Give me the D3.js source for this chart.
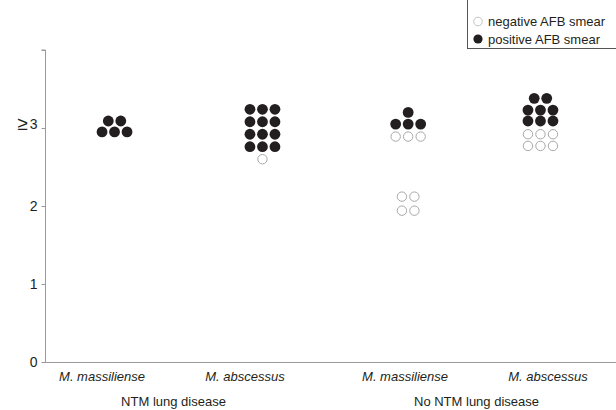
<!DOCTYPE html>
<html>
<head>
<meta charset="utf-8">
<script src="https://cdn.jsdelivr.net/npm/d3@7"></script>
<style>
  html, body { margin: 0; padding: 0; background: #fff; }
  svg { display: block; font-family: "Liberation Sans", Arial, sans-serif; }
</style>
</head>
<body>
<svg id="chart" width="616" height="410"></svg>
<script>
// Categories along the x axis and the two patient groups they belong to
const categories = ["M. massiliense", "M. abscessus", "M. massiliense", "M. abscessus"];
const categoryGroup = [0, 0, 1, 1];
const groups = ["NTM lung disease", "No NTM lung disease"];

// y axis ticks and their labels
const yTickValues = [0, 1, 2, 3, 4];
const yTickLabels = ["0", "1", "2", "3", ""];

// Dot rows: category index, smear result, level on the y axis,
// and the slots (in dot widths, from the category centre) the dots occupy
const rowCategory = [0, 0, 1, 1, 1, 1, 1, 2, 2, 2, 2, 2, 3, 3, 3, 3, 3];
const rowSmear = ["pos", "pos",
                  "pos", "pos", "pos", "pos", "neg",
                  "pos", "pos", "neg", "neg", "neg",
                  "pos", "pos", "pos", "neg", "neg"];
const rowLevel = [3.09, 2.95,
                  3.24, 3.08, 2.92, 2.76, 2.60,
                  3.20, 3.05, 2.89, 2.12, 1.94,
                  3.38, 3.23, 3.09, 2.92, 2.77];
const rowSlots = [[0.5, 1.5], [0, 1, 2],
                  [0.4, 1.4, 2.4], [0.4, 1.4, 2.4], [0.4, 1.4, 2.4], [0.4, 1.4, 2.4], [1.4],
                  [0.25], [-0.75, 0.25, 1.25], [-0.75, 0.25, 1.25], [-0.25, 0.75], [-0.25, 0.75],
                  [-1.1, -0.1], [-1.6, -0.6, 0.4], [-1.6, -0.6, 0.4], [-1.6, -0.6, 0.4], [-1.6, -0.6, 0.4]];

// Legend entries
const legendLabels = ["negative AFB smear", "positive AFB smear"];
const legendSmear = ["neg", "pos"];

const ink = "#231f20";
const axisGrey = "#9a9a9a";
const openStroke = "#a8a8a8";
const dotStep = 12.5;

const svg = d3.select("#chart");
const plotLeft = 45, plotBottom = 362, plotTop = 50, plotRight = 616;

// Groups first, then the categories inside each group
const xGroup = d3.scaleBand().domain(d3.range(groups.length)).range([22, 628]);
const xInner = d3.scaleBand().domain([0, 1]).range([0, xGroup.bandwidth()]).paddingOuter(0.06);
const catX = i => xGroup(categoryGroup[i]) + xInner(i % 2) + xInner.bandwidth() / 2;
const groupX = g => xGroup(g) + xGroup.bandwidth() / 2;

const y = d3.scaleLinear().domain([0, 4]).range([plotBottom, plotTop]);

// y axis
const yAxis = svg.append("g")
  .attr("transform", `translate(${plotLeft + 0.5},0)`)
  .call(d3.axisLeft(y).tickValues(yTickValues).tickSize(4).tickPadding(4)
        .tickFormat((d, i) => yTickLabels[i]));
yAxis.select(".domain").attr("stroke", axisGrey).attr("d", `M-4,${y(4)}H0V${y(0)}`);
yAxis.selectAll(".tick line").attr("stroke", axisGrey);
yAxis.selectAll(".tick text")
  .attr("fill", ink).style("font-size", "14px").style("font-family", "Liberation Sans, Arial, sans-serif");

// the top category is open-ended: prefix "3" with ≥
yAxis.selectAll(".tick").filter(d => d === 3).select("text")
  .text(null)
  .call(t => {
    t.append("tspan").text("≥").style("font-size", "19px").attr("dy", "0.08em");
    t.append("tspan").text("3").attr("dx", 2).attr("dy", "-0.08em");
  });

// x axis baseline
svg.append("line")
  .attr("x1", plotLeft).attr("x2", plotRight)
  .attr("y1", y(0) + 0.5).attr("y2", y(0) + 0.5)
  .attr("stroke", axisGrey);

// category labels
svg.append("g").selectAll("text")
  .data(categories)
  .join("text")
  .attr("x", (d, i) => catX(i))
  .attr("y", 381)
  .attr("text-anchor", "middle")
  .attr("fill", ink)
  .style("font-size", "13px")
  .style("font-style", "italic")
  .text(d => d);

// group labels
svg.append("g").selectAll("text")
  .data(groups)
  .join("text")
  .attr("x", (d, i) => groupX(i))
  .attr("y", 406)
  .attr("text-anchor", "middle")
  .attr("fill", ink)
  .style("font-size", "13px")
  .text(d => d);

// dots
const dots = [];
rowCategory.forEach((c, r) => {
  rowSlots[r].forEach(s => dots.push({ cat: c, smear: rowSmear[r], level: rowLevel[r], slot: s }));
});

const drawDot = (sel, rPos, rNeg) => sel
  .attr("r", d => d.smear === "pos" ? rPos : rNeg)
  .attr("fill", d => d.smear === "pos" ? ink : "#fff")
  .attr("stroke", d => d.smear === "pos" ? "none" : openStroke)
  .attr("stroke-width", 1);

svg.append("g").selectAll("circle")
  .data(dots)
  .join("circle")
  .attr("cx", d => catX(d.cat) + d.slot * dotStep)
  .attr("cy", d => y(d.level))
  .call(drawDot, 5.4, 4.7);

// legend
const legend = svg.append("g");
legend.append("rect")
  .attr("x", 467.5).attr("y", -1)
  .attr("width", 160).attr("height", 49.5)
  .attr("fill", "#fff").attr("stroke", "#555").attr("stroke-width", 1);

const legendRows = legend.selectAll("g.item")
  .data(legendLabels.map((t, i) => ({ label: t, smear: legendSmear[i] })))
  .join("g")
  .attr("class", "item")
  .attr("transform", (d, i) => `translate(478,${21.5 + i * 17.5})`);
legendRows.append("circle")
  .attr("cx", 0).attr("cy", 0)
  .call(drawDot, 4.6, 4.3)
  .attr("stroke", d => d.smear === "pos" ? "none" : "#c4c4c4");
legendRows.append("text")
  .attr("x", 10).attr("y", 4.6)
  .attr("fill", ink)
  .style("font-size", "13px")
  .text(d => d.label);
</script>
</body>
</html>
